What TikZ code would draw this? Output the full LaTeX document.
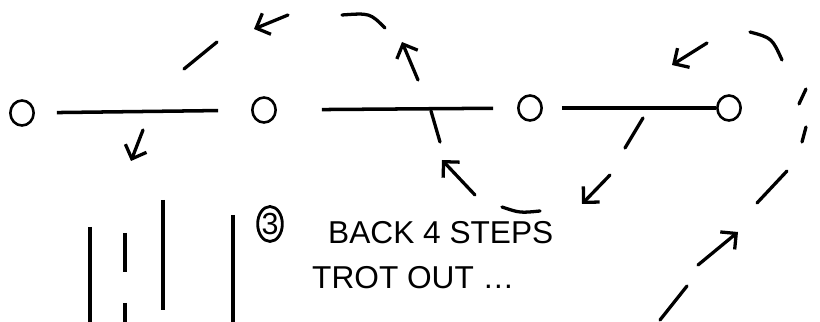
\documentclass[tikz,border=0pt]{standalone}
\usepackage{fontspec}
\setmainfont{Liberation Sans}
\usetikzlibrary{shapes.geometric, arrows.meta, positioning}

\begin{document}
\begin{tikzpicture}[
    x=0.3mm, y=-0.3mm,
    cone/.style={ellipse, draw=black, line width=2.2pt, minimum width=7mm, minimum height=7.5mm, inner sep=0pt},
    pole/.style={line width=3pt},
    rail/.style={line width=3.2pt},
    track/.style={line width=2.8pt, line cap=round},
    trackarrow/.style={track, -{Straight Barb[length=3.4mm, width=6.8mm]}},
    numbox/.style={ellipse, draw=black, line width=2.4pt, minimum width=7.4mm, minimum height=10.5mm, inner sep=0pt, font=\fontsize{26}{28}\selectfont},
    label/.style={font=\fontsize{27}{32}\selectfont, inner sep=0pt}
]
\useasboundingbox (0,0) rectangle (820,322);

% Cones in a row
\node[cone] (cone1) at (22,113) {};
\node[cone] (cone2) at (264,110) {};
\node[cone] (cone3) at (530,108) {};
\node[cone] (cone4) at (729,108) {};

% Poles on the ground between the cones
\draw[pole, shorten <=6.6mm, shorten >=9.9mm] (cone1) -- (cone2);
\draw[pole, shorten <=13.5mm, shorten >=7.2mm] (cone2) -- (cone3);
\draw[pole, shorten <=5.7mm] (cone3) -- (cone4);

% Track of the horse, drawn in strokes
\draw[track] (660,320) -- (687,286);
\draw[trackarrow] (698,265) -- (738,232);
\draw[track] (757,203) -- (787,171);
\draw[track] (799,104) -- (806,89);
\draw[track] (802,142) -- (806,127);
\draw[track] (750,32) .. controls (772,38) .. (782,60);
\draw[trackarrow] (707,43) -- (672,65);
\draw[track] (643,118) -- (625,148);
\draw[trackarrow] (610,175) -- (582,204);
\draw[track] (502,207) .. controls (520,213) .. (540,211);
\draw[trackarrow] (475,195) -- (442,160);
\draw[track] (440,142) -- (431,111);
\draw[trackarrow] (418,80) -- (402,42);
\draw[track] (342,15) .. controls (370,13) .. (385,28);
\draw[trackarrow] (288,15) -- (254,29);
\draw[track] (217,42) -- (184,69);
\draw[trackarrow] (143,130) -- (131,161);

% Rails at the bottom left
\draw[rail] (90,227) -- (90,322);
\draw[rail] (125,233) -- (125,272);
\draw[rail] (125,303) -- (125,322);
\draw[rail] (163,200) -- (163,310);
\draw[rail] (233,215) -- (233,322);

% Note for step 3
\node[numbox] (num) at (270,224) {3};
\node[label, anchor=base west] (back) at (328,244) {BACK 4 STEPS};
\node[label, below=6.4mm of back.south west, anchor=north west, xshift=-4.8mm] (trot) {TROT OUT \dots};

\end{tikzpicture}
\end{document}
